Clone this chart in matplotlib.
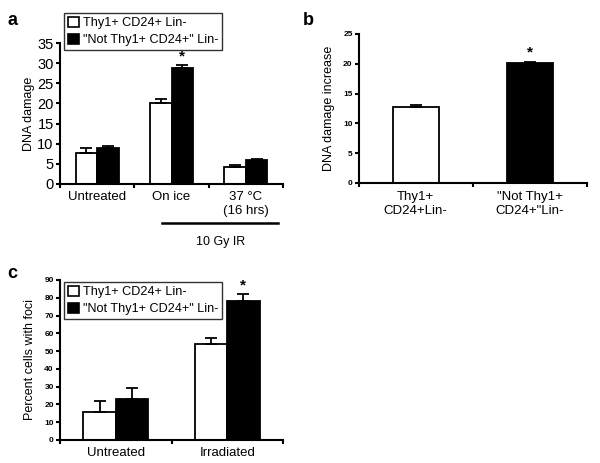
import numpy as np
import matplotlib
matplotlib.use("Agg")
from matplotlib import pyplot as plt
from matplotlib.patches import Patch

plt.rcParams['font.family'] = ['Liberation Sans', 'DejaVu Sans']

# panel a
a_groups = ['Untreated', 'On ice', '37 \u00b0C\n(16 hrs)']
a_pos = [7.6, 20.2, 4.3]
a_pos_err = [1.4, 0.8, 0.5]
a_neg = [8.9, 28.9, 5.9]
a_neg_err = [0.5, 0.6, 0.2]

# panel b
b_groups = ['Thy1+\nCD24+Lin-', '"Not Thy1+\nCD24+"Lin-']
b_vals = [12.7, 20.2]
b_err = [0.4, 0.15]

# panel c
c_groups = ['Untreated', 'Irradiated']
c_pos = [16, 54]
c_pos_err = [6, 3.5]
c_neg = [23, 78]
c_neg_err = [6.5, 4]

legend_labels = ['Thy1+ CD24+ Lin-', '"Not Thy1+ CD24+" Lin-']

fig = plt.figure(figsize=(6, 4.63), dpi=100)

def style(ax, n, ymax, tick_fs, bold):
  for s in ['top', 'right']:
    ax.spines[s].set_visible(False)
  for s in ['left', 'bottom']:
    ax.spines[s].set_linewidth(1.5)
  ax.set_xlim(-0.5, n - 0.5)
  ax.set_ylim(0, ymax)
  ax.set_xticks(np.arange(n + 1) - 0.5)
  ax.set_xticklabels([])
  ax.tick_params(axis='x', which='major', length=3, width=1.5, direction='out')
  ax.tick_params(axis='y', length=3, width=1.5, direction='out', pad=1.5,
                 labelsize=tick_fs)
  if bold:
    for t in ax.get_yticklabels():
      t.set_fontweight('bold')

def up_err(err):
  return np.array([np.zeros(len(err)), err])

ekw = dict(ecolor='black', elinewidth=1.3, capsize=4, capthick=1.3)

def legend(target, y):
  handles = [Patch(facecolor='white', edgecolor='black', linewidth=1.2),
             Patch(facecolor='black', edgecolor='black', linewidth=1.2)]
  leg = target.legend(handles, legend_labels, loc='upper left',
                      bbox_to_anchor=(64 / 600, 1 - y / 463),
                      bbox_transform=fig.transFigure, fontsize=9.1,
                      frameon=True, fancybox=False, edgecolor='black',
                      handlelength=0.9, handleheight=0.9, handletextpad=0.3,
                      borderpad=0.3, labelspacing=0.35, borderaxespad=0)
  leg.get_frame().set_linewidth(1.0)

# ---- a
ax = fig.add_axes([0.1, 0.6026, 0.3717, 0.3044])
x = np.arange(len(a_groups))
w = 0.29
ax.bar(x - w / 2, a_pos, w, color='white', edgecolor='black', linewidth=1.3,
       yerr=up_err(a_pos_err), error_kw=ekw)
ax.bar(x + w / 2, a_neg, w, color='black', edgecolor='black', linewidth=1.3,
       yerr=up_err(a_neg_err), error_kw=ekw)
style(ax, len(a_groups), 35, 10.5, False)
ax.set_yticks(range(0, 36, 5))
ax.set_xticks(x, minor=True)
ax.set_xticklabels(a_groups, minor=True, fontsize=9.5)
ax.tick_params(axis='x', which='minor', length=0, pad=5)
ax.set_ylabel('DNA damage', fontsize=9, labelpad=2)
ax.text(1 + w / 2, a_neg[1] + a_neg_err[1] + 0.4, '*', ha='center', va='bottom',
        fontsize=11, fontweight='bold')
ax.plot([0.87, 2.43], [-0.277, -0.277], color='black', lw=1.8,
        transform=ax.get_xaxis_transform(), clip_on=False)
ax.text(1.66, -0.415, '10 Gy IR', ha='center', va='center', fontsize=9,
        transform=ax.get_xaxis_transform())
fig.text(0.012, 0.955, 'a', fontsize=13, fontweight='bold', va='center')
legend(fig, 13)

# ---- b
ax = fig.add_axes([0.598, 0.605, 0.38, 0.3216])
x = np.arange(len(b_groups))
ax.bar(x, b_vals, 0.4, color=['white', 'black'], edgecolor='black', linewidth=1.3,
       yerr=up_err(b_err), error_kw=ekw)
style(ax, len(b_groups), 25, 6, True)
ax.set_yticks(range(0, 26, 5))
ax.set_xticks(x, minor=True)
ax.set_xticklabels(b_groups, minor=True, fontsize=9.5)
ax.tick_params(axis='x', which='minor', length=0, pad=6)
ax.set_ylabel('DNA damage increase', fontsize=9, labelpad=6)
ax.text(1, b_vals[1] + b_err[1] + 0.4, '*', ha='center', va='bottom',
        fontsize=11, fontweight='bold')
fig.text(0.505, 0.955, 'b', fontsize=13, fontweight='bold', va='center')

# ---- c
ax = fig.add_axes([0.1, 0.0497, 0.3717, 0.3456])
x = np.arange(len(c_groups))
w = 0.29
ax.bar(x - w / 2, c_pos, w, color='white', edgecolor='black', linewidth=1.3,
       yerr=up_err(c_pos_err), error_kw=ekw)
ax.bar(x + w / 2, c_neg, w, color='black', edgecolor='black', linewidth=1.3,
       yerr=up_err(c_neg_err), error_kw=ekw)
style(ax, len(c_groups), 90, 6, True)
ax.set_yticks(range(0, 91, 10))
ax.set_xticks(x, minor=True)
ax.set_xticklabels(c_groups, minor=True, fontsize=9.5)
ax.tick_params(axis='x', which='minor', length=0, pad=5)
ax.set_ylabel('Percent cells with foci', fontsize=9, labelpad=6)
ax.text(1 + w / 2, c_neg[1] + c_neg_err[1] + 1, '*', ha='center', va='bottom',
        fontsize=11, fontweight='bold')
fig.text(0.012, 0.41, 'c', fontsize=13, fontweight='bold', va='center')
legend(ax, 282)

fig.savefig('out.png', dpi=100)
